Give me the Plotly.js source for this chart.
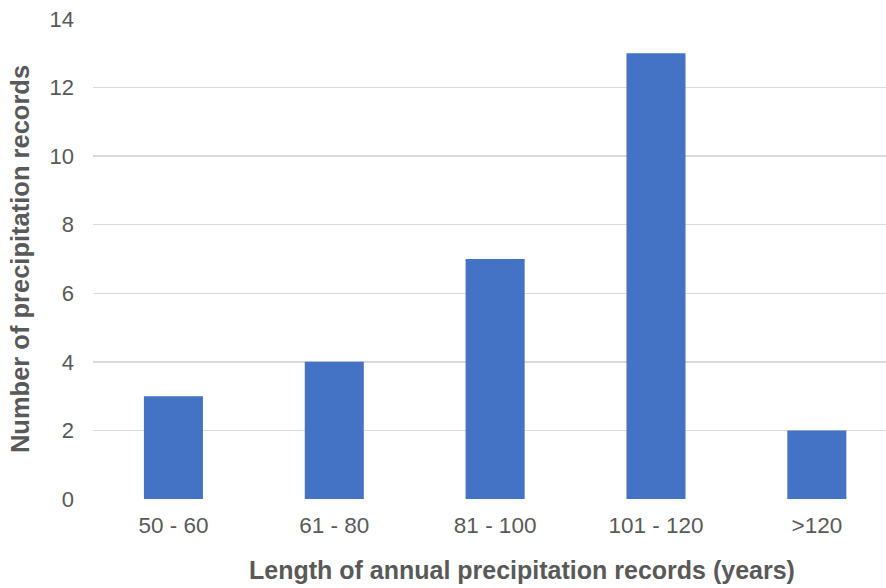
<!DOCTYPE html>
<html>
<head>
<meta charset="utf-8">
<script src="https://cdn.plot.ly/plotly-3.0.1.min.js"></script>
<style>
  html, body { margin: 0; padding: 0; background: #ffffff; }
  #chart { width: 886px; height: 588px; }
</style>
</head>
<body>
<div id="chart"></div>
<script>
// Record-length classes and how many precipitation records fall in each
const recordLengthClasses = ['50 - 60', '61 - 80', '81 - 100', '101 - 120', '>120'];
const recordCounts = [3, 4, 7, 13, 2];
const yTickValues = [0, 2, 4, 6, 8, 10, 12, 14];

const textGrey = '#595959';
const fontFamily = '"Liberation Sans", Arial, sans-serif';

const trace = {
  type: 'bar',
  x: recordLengthClasses,
  y: recordCounts,
  marker: { color: '#4472C4', line: { width: 0 } },
  hoverinfo: 'x+y'
};

const layout = {
  width: 886,
  height: 588,
  margin: { l: 93, r: 0, t: 19, b: 89 },
  paper_bgcolor: '#ffffff',
  plot_bgcolor: '#ffffff',
  bargap: 0.633,
  showlegend: false,
  font: { family: fontFamily, color: textGrey, size: 22 },
  xaxis: {
    type: 'category',
    range: [-0.5, 4.43],
    showgrid: false,
    zeroline: false,
    showline: false,
    ticks: '',
    ticklabelstandoff: 10,
    tickfont: { family: fontFamily, size: 22.5, color: textGrey },
    automargin: false
  },
  yaxis: {
    range: [0, 14],
    tickvals: yTickValues,
    showgrid: true,
    gridcolor: '#d9d9d9',
    gridwidth: 1.3,
    zeroline: false,
    showline: false,
    ticks: '',
    ticklabelstandoff: 18,
    tickfont: { family: fontFamily, size: 22, color: textGrey },
    automargin: false,
    title: {
      text: 'Number of precipitation records',
      font: { family: fontFamily, size: 25.5, color: textGrey, weight: 'bold' },
      standoff: 12
    }
  },
  // x-axis title, placed as an annotation so it sits centred under the full chart width
  annotations: [{
    text: 'Length of annual precipitation records (years)',
    xref: 'paper', yref: 'paper',
    x: 0.5404, y: -0.148,
    xanchor: 'center', yanchor: 'middle',
    showarrow: false,
    font: { family: fontFamily, size: 25, color: textGrey, weight: 'bold' }
  }]
};

Plotly.newPlot('chart', [trace], layout, { displayModeBar: false, staticPlot: true });
</script>
</body>
</html>
